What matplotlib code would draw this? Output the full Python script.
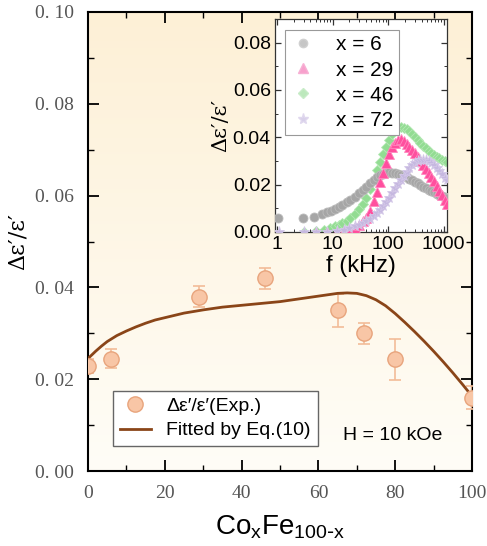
import numpy as np
import matplotlib
matplotlib.use("Agg")
import matplotlib.pyplot as plt
from matplotlib.ticker import MultipleLocator, FuncFormatter, LogLocator, NullFormatter, FixedLocator
from matplotlib.lines import Line2D

# ---------------- data ----------------
x_exp = [0, 6, 29, 46, 65, 72, 80, 100]
y_exp = [0.0229, 0.0245, 0.0380, 0.0420, 0.0350, 0.0300, 0.0243, 0.0160]
y_err = [0.0015, 0.0020, 0.0022, 0.0023, 0.0036, 0.0023, 0.0045, 0.0025]

x_fit = [0, 1, 2, 3.5, 5, 7.5, 10, 12.5, 15, 17.5, 20, 25, 30, 35, 40, 45, 50, 55, 60, 62.5, 65,
         67.5, 70, 72.5, 75, 77.5, 80, 82.5, 85, 87.5, 90, 92.5, 95, 97.5, 100]
y_fit = [0.0245, 0.0253, 0.0261, 0.0272, 0.0282, 0.0295, 0.0305, 0.0314, 0.0322, 0.0329, 0.0334,
         0.0344, 0.0351, 0.0357, 0.0361, 0.0365, 0.0369, 0.0375, 0.0381, 0.0384, 0.0387, 0.0388,
         0.0387, 0.0382, 0.0373, 0.0360, 0.0343, 0.0324, 0.0304, 0.0283, 0.0261, 0.0238, 0.0214,
         0.0189, 0.0163]

f_gray = [1.05, 2.9, 4.6, 6.5, 8, 9.3, 11, 13, 15, 18, 21, 25, 30, 35, 40, 47, 55, 63, 72, 82, 92,
          105, 120, 135, 150, 170, 190, 215, 240, 270, 300, 340, 380, 430, 480, 540, 600, 670, 750,
          840, 940, 1050, 1150]
v_gray = [0.0060, 0.0060, 0.0063, 0.0075, 0.0083, 0.0090, 0.0097, 0.0105, 0.0115, 0.0127, 0.0137,
          0.0150, 0.0165, 0.0178, 0.0190, 0.0205, 0.0220, 0.0232, 0.0240, 0.0247, 0.0250, 0.0252,
          0.0251, 0.0249, 0.0246, 0.0242, 0.0237, 0.0231, 0.0225, 0.0219, 0.0212, 0.0205, 0.0198,
          0.0191, 0.0185, 0.0179, 0.0173, 0.0168, 0.0162, 0.0157, 0.0152, 0.0147, 0.0143]

f_pink = [5, 8, 12, 16, 20, 25, 30, 35, 40, 47, 55, 63, 72, 82, 92, 105, 120, 135, 150, 170, 190,
          215, 240, 270, 300, 340, 380, 430, 480, 540, 600, 670, 750, 840, 940, 1050, 1150]
v_pink = [0.0, 0.0, 0.0, 0.0003, 0.0005, 0.0015, 0.0030, 0.0045, 0.0060, 0.0090, 0.0130, 0.0170,
          0.0210, 0.0250, 0.0290, 0.0330, 0.0360, 0.0378, 0.0388, 0.0392, 0.0385, 0.0372, 0.0360,
          0.0345, 0.0332, 0.0316, 0.0300, 0.0283, 0.0267, 0.0250, 0.0233, 0.0215, 0.0195, 0.0175,
          0.0155, 0.0137, 0.0120]

f_green = [3, 5, 7, 9, 11, 13, 15, 18, 21, 25, 30, 35, 40, 47, 55, 63, 72, 82, 92, 105, 120, 135,
           150, 170, 190, 215, 240, 270, 300, 340, 380, 430, 480, 540, 600, 670, 750, 840, 940,
           1050, 1150]
v_green = [0.0, 0.0005, 0.0010, 0.0017, 0.0025, 0.0030, 0.0037, 0.0047, 0.0058, 0.0075, 0.0098,
           0.0120, 0.0145, 0.0180, 0.0220, 0.0260, 0.0295, 0.0330, 0.0360, 0.0390, 0.0415, 0.0430,
           0.0438, 0.0442, 0.0441, 0.0435, 0.0425, 0.0413, 0.0402, 0.0390, 0.0378, 0.0365, 0.0353,
           0.0342, 0.0333, 0.0325, 0.0318, 0.0312, 0.0306, 0.0301, 0.0297]

f_purple = [1.1, 3, 5, 8, 12, 16, 20, 25, 30, 35, 40, 47, 55, 63, 72, 82, 92, 105, 120, 135, 150,
            170, 190, 215, 240, 270, 300, 340, 380, 430, 480, 540, 600, 670, 750, 840, 940, 1050, 1150]
v_purple = [0.0, 0.0, 0.0, 0.0, 0.0005, 0.0010, 0.0015, 0.0025, 0.0030, 0.0037, 0.0045, 0.0055,
            0.0068, 0.0080, 0.0095, 0.0110, 0.0125, 0.0145, 0.0165, 0.0185, 0.0202, 0.0220, 0.0238,
            0.0255, 0.0270, 0.0282, 0.0292, 0.0299, 0.0303, 0.0305, 0.0304, 0.0299, 0.0292, 0.0282,
            0.0270, 0.0257, 0.0243, 0.0230, 0.0218]

inset_labels = ["x = 6", "x = 29", "x = 46", "x = 72"]

# ---------------- figure ----------------
fig = plt.figure(figsize=(4.87, 5.46), dpi=100)
ax = fig.add_axes([88/487, 75/546, 384/487, 459/546])

# gradient background
grad = np.linspace(0, 1, 256).reshape(-1, 1)
top = np.array([253, 240, 214]) / 255.0
bot = np.array([255, 253, 247]) / 255.0
img = top[None, None, :] * (1 - grad[:, :, None]) + bot[None, None, :] * grad[:, :, None]
ax.imshow(img, extent=[0, 100, 0, 0.10], aspect='auto', origin='upper', zorder=0)

ax.errorbar(x_exp, y_exp, yerr=y_err, fmt='none', ecolor='#f2bc98', elinewidth=1.2,
            capsize=4, capthick=1.2, zorder=3)
ax.plot(x_exp, y_exp, 'o', ms=11, mfc='#f8c6a6', mec='#e8a47c', mew=1.0, zorder=4)
ax.plot(x_fit, y_fit, '-', color='#8a4518', lw=2.0, zorder=3)

ax.set_xlim(0, 100)
ax.set_ylim(0, 0.10)
ax.xaxis.set_major_locator(MultipleLocator(20))
ax.xaxis.set_minor_locator(MultipleLocator(10))
ax.yaxis.set_major_locator(MultipleLocator(0.02))
ax.yaxis.set_minor_locator(MultipleLocator(0.01))
ax.yaxis.set_major_formatter(FuncFormatter(lambda v, p: f"{v:.2f}".replace('.', '. ')))
ax.tick_params(which='both', direction='in', top=True, right=True, color='black')
ax.tick_params(which='major', length=8, width=1.3)
ax.tick_params(which='minor', length=4, width=1.0)
ax.tick_params(labelsize=14, labelcolor='#555555', pad=10)
for lab in ax.get_xticklabels() + ax.get_yticklabels():
    lab.set_family('Liberation Serif')
for s in ax.spines.values():
    s.set_linewidth(1.5)

ax.set_xlabel(r'Co$_\mathregular{x}$Fe$_\mathregular{100\text{-}x}$', fontsize=20, family='Liberation Sans',
              labelpad=8)
ax.set_ylabel("Δε′/ε′", fontsize=16, family='DejaVu Serif')
ax.yaxis.set_label_coords(-0.155, 0.5)

h1 = Line2D([], [], ls='none', marker='o', ms=11, mfc='#f8c6a6', mec='#e8a47c')
h2 = Line2D([], [], color='#8a4518', lw=2.0)
leg = ax.legend([h1, h2], ["Δε′/ε′(Exp.)", "Fitted by Eq.(10)"], loc='lower left',
                bbox_to_anchor=(0.065, 0.054), borderaxespad=0,
                prop={'family': 'Liberation Sans', 'size': 14},
                frameon=True, fancybox=False, edgecolor='#666666', framealpha=1,
                handlelength=1.6, handletextpad=0.8, borderpad=0.35, labelspacing=0.35)
leg.get_frame().set_linewidth(1.0)
ax.text(0.665, 0.078, "H = 10 kOe", transform=ax.transAxes, fontsize=14,
        family='Liberation Sans', ha='left', va='center', zorder=5)

# ---------------- inset ----------------
ins = fig.add_axes([275/487, 314/546, 172/487, 213/546])
ins.set_facecolor('white')
ms = 6.5
ins.plot(f_green, v_green, 'D', ms=5.5, mfc='#92dc92', mec='#b4e8b4', mew=0.6, zorder=2)
ins.plot(f_gray, v_gray, 'o', ms=ms, mfc='#a6a6a6', mec='#bcbcbc', mew=0.6, zorder=3)
ins.plot(f_pink, v_pink, '^', ms=ms, mfc='#ff4f9e', mec='#ff88bf', mew=0.6, zorder=4)
ins.plot(f_purple, v_purple, '*', ms=8, mfc='#c6b8e0', mec='#d4c8e8', mew=0.6, zorder=5)
ins.set_xscale('log')
ins.set_xlim(0.92, 1150)
ins.set_ylim(0, 0.09)
ins.xaxis.set_major_locator(FixedLocator([1, 10, 100, 1000]))
ins.xaxis.set_minor_locator(LogLocator(base=10, subs=np.arange(2, 10), numticks=20))
ins.xaxis.set_minor_formatter(NullFormatter())
ins.xaxis.set_major_formatter(FuncFormatter(lambda v, p: f"{v:g}"))
ins.yaxis.set_major_locator(FixedLocator([0.0, 0.02, 0.04, 0.06, 0.08]))
ins.yaxis.set_minor_locator(MultipleLocator(0.01))
ins.yaxis.set_major_formatter(FuncFormatter(lambda v, p: f"{v:.2f}"))
ins.tick_params(which='both', direction='in', top=True, right=True, color='#333333')
ins.tick_params(which='major', length=4, width=0.9)
ins.tick_params(which='minor', length=2, width=0.7)
ins.tick_params(labelsize=14, pad=3)
for lab in ins.get_xticklabels() + ins.get_yticklabels():
    lab.set_family('Liberation Sans')
for s in ins.spines.values():
    s.set_linewidth(0.9)
    s.set_color('#333333')
ins.set_xlabel("f (kHz)", fontsize=17, family='Liberation Sans', labelpad=1)
ins.set_ylabel("Δε′/ε′", fontsize=15, family='DejaVu Serif', labelpad=2)

lh = [Line2D([], [], ls='none', marker='o', ms=6, mfc='#c6c6c6', mec='#d0d0d0'),
      Line2D([], [], ls='none', marker='^', ms=7, mfc='#f7a0cc', mec='#f7b0d4'),
      Line2D([], [], ls='none', marker='D', ms=5.5, mfc='#bce8bc', mec='#c8ecc8'),
      Line2D([], [], ls='none', marker='*', ms=8, mfc='#d8d0ea', mec='#e0d8ee')]
ileg = ins.legend(lh, inset_labels, loc='upper left', bbox_to_anchor=(0.058, 0.948),
                  borderaxespad=0,
                  prop={'family': 'Liberation Sans', 'size': 15}, frameon=True, fancybox=False,
                  edgecolor='#999999', framealpha=1, handlelength=1.2, handletextpad=1.0,
                  borderpad=0.25, labelspacing=0.3)
ileg.get_frame().set_linewidth(0.8)

fig.savefig("out.png", dpi=100)
